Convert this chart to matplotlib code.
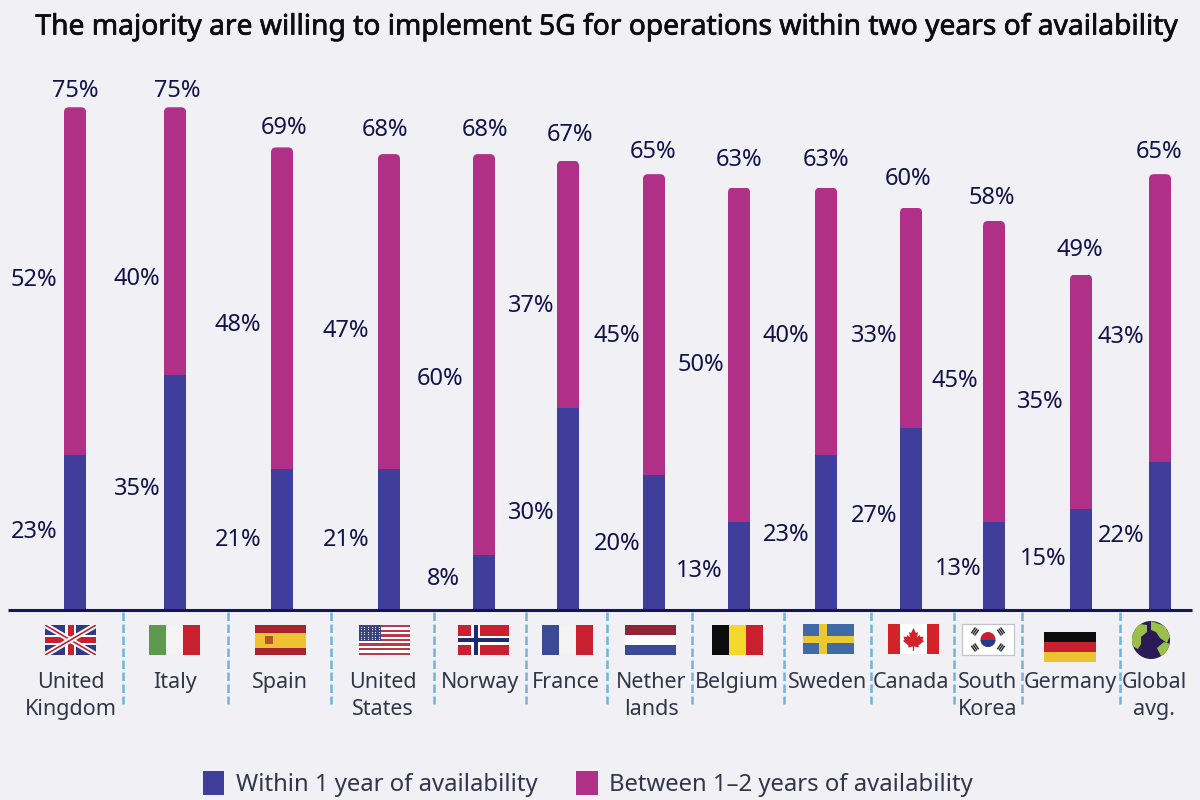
import numpy as np
import matplotlib
matplotlib.use('Agg')
import matplotlib.pyplot as plt
import matplotlib.patheffects as pe
from matplotlib.patches import Rectangle, Circle, Polygon, FancyBboxPatch

# data
countries = ['United\nKingdom', 'Italy', 'Spain', 'United\nStates', 'Norway', 'France', 'Nether\nlands',
             'Belgium', 'Sweden', 'Canada', 'South\nKorea', 'Germany', 'Global\navg.']
within_1 = [23, 35, 21, 21, 8, 30, 20, 13, 23, 27, 13, 15, 22]
between_1_2 = [52, 40, 48, 47, 60, 37, 45, 50, 40, 33, 45, 35, 43]
totals = [75, 75, 69, 68, 68, 67, 65, 63, 63, 60, 58, 49, 65]

# layout, all in reference pixels
bar_x = [75, 175, 282, 389, 484, 568, 654, 739, 826, 911, 994, 1081, 1160]
name_x = [71, 175, 280, 383, 480, 566, 651, 737, 828, 911, 988, 1070, 1154]
total_pos = [(75, 89), (177, 89), (284, 126), (385, 128), (485, 128), (570, 133), (653, 150),
             (739, 158), (826, 158), (908, 177), (992, 196), (1080, 248), (1159, 150)]
top_pos = [(34, 278), (137, 277), (238, 323), (346, 329), (440, 377), (531, 304), (617, 334),
           (701, 363), (786, 334), (874, 334), (955, 379), (1040, 400), (1121, 335)]
low_pos = [(34, 530), (137, 487), (238, 538), (346, 538), (443, 577), (531, 511), (617, 542),
           (699, 569), (786, 533), (874, 514), (958, 567), (1043, 557), (1121, 534)]
divider_x = [123, 228, 331, 434, 526, 607, 692, 784, 871, 954, 1022, 1120]

BG = '#f1f1f5'
BLUE = '#3f3f9b'
PINK = '#b03088'
NAVY = '#14124a'
DASH = '#6fb4dc'
RED = '#c8202f'
FLAG_BLUE = '#3b4a96'
LABEL_GREY = '#34344a'
plt.rcParams['font.family'] = ['Noto Sans', 'DejaVu Sans']

PX_PER_PCT = 6.69
BASE_Y = 609
TOP_Y = 60

fig = plt.figure(figsize=(12, 8), dpi=100, facecolor=BG)
ax = fig.add_axes([0, (800 - BASE_Y) / 800, 1, (BASE_Y - TOP_Y) / 800])
ax.set_xlim(0, 1200)
ax.set_ylim(0, (BASE_Y - TOP_Y) / PX_PER_PCT)
ax.axis('off')

# pixel overlay for text and flags
ov = fig.add_axes([0, 0, 1, 1], zorder=3)
ov.set_xlim(0, 1200)
ov.set_ylim(800, 0)
ov.axis('off')

low = ax.bar(bar_x, within_1, width=22, color=BLUE, label='Within 1 year of availability', zorder=3)
high = ax.bar(bar_x, between_1_2, width=22, bottom=within_1, color=PINK,
              label='Between 1\u20132 years of availability', zorder=2)

# round the top corners of the pink bars
for rect_, x, a, b in zip(high, bar_x, within_1, between_1_2):
    clip = FancyBboxPatch((x - 11, 0), 22, a + b, boxstyle='round,pad=0,rounding_size=5',
                          mutation_aspect=1 / PX_PER_PCT, transform=ax.transData)
    rect_.set_clip_path(clip)

ov.plot([8, 1192], [BASE_Y + 1, BASE_Y + 1], color='#17145c', lw=2.2, solid_capstyle='butt')
for x in divider_x:
    ov.plot([x, x], [612, 704], color=DASH, lw=1.8, dashes=(3.4, 1.4))

title = ov.text(606, 27, 'The majority are willing to implement 5G for operations within two years of availability',
                ha='center', va='center', fontsize=20.3, color='#0c0c12')
# no medium weight in the font, thicken it a little
title.set_path_effects([pe.withStroke(linewidth=0.5, foreground='#0c0c12')])

for (x, y), v in zip(total_pos, totals):
    ov.text(x, y + 2, f'{v}%', ha='center', va='center', fontsize=17, color=NAVY)
for (x, y), v in zip(top_pos, between_1_2):
    ov.text(x, y + 2, f'{v}%', ha='center', va='center', fontsize=17, color=NAVY)
for (x, y), v in zip(low_pos, within_1):
    ov.text(x, y + 2, f'{v}%', ha='center', va='center', fontsize=17, color=NAVY)

for x, name in zip(name_x, countries):
    ov.text(x, 672, name, ha='center', va='top', fontsize=15.5, color=LABEL_GREY,
            linespacing=1.38)


def rect(x, y, w, h, c, clip=None):
    r = Rectangle((x, y), w, h, fc=c, ec='none')
    ov.add_patch(r)
    if clip is not None:
        r.set_clip_path(clip)
    return r


def vertical_tricolor(x0, y0, cols):
    for i, c in enumerate(cols):
        rect(x0 + i * 17, y0, 17.2, 30, c)


def flag_uk(x, y):
    box = rect(x, y, 51, 30, '#2f3a86')
    for a, b in [((x, y), (x + 51, y + 30)), ((x, y + 30), (x + 51, y))]:
        ln, = ov.plot([a[0], b[0]], [a[1], b[1]], color='white', lw=4, solid_capstyle='butt')
        ln.set_clip_path(box)
        ln, = ov.plot([a[0], b[0]], [a[1], b[1]], color=RED, lw=1.2, solid_capstyle='butt')
        ln.set_clip_path(box)
    rect(x + 20, y, 11, 30, 'white')
    rect(x, y + 10, 51, 10, 'white')
    rect(x + 22.5, y, 6, 30, RED)
    rect(x, y + 12, 51, 6, RED)


def flag_us(x, y):
    rect(x, y, 51, 30, 'white')
    for i in range(0, 13, 2):
        rect(x, y + i * 30 / 13, 51, 30 / 13, '#b83a48')
    rect(x, y, 22.5, 15.5, '#3a4380')
    for i in range(6):
        ov.plot(x + 2 + np.arange(6) * 3.7, np.full(6, y + 1.5 + i * 2.5), ls='none', marker='.',
                ms=1.6, color='white', mew=0)


def flag_norway(x, y):
    rect(x, y, 51, 30, RED)
    rect(x + 13, y, 9, 30, 'white')
    rect(x, y + 10.5, 51, 9, 'white')
    rect(x + 15.5, y, 4, 30, '#1e2a6e')
    rect(x, y + 13, 51, 4, '#1e2a6e')


def flag_sweden(x, y):
    rect(x, y, 51, 30, '#3f6aa5')
    rect(x + 16, y, 8, 30, '#ecc832')
    rect(x, y + 11.5, 51, 7, '#ecc832')


def flag_canada(x, y):
    rect(x, y, 51, 30, 'white')
    rect(x, y, 12, 30, '#d2232a')
    rect(x + 39, y, 12, 30, '#d2232a')
    cx, cy = x + 25.5, y + 15
    leaf = [(0, -11), (2.5, -6), (4.5, -7), (3.5, -1.5), (6, -4), (7, -2), (10, -2.5), (9, 1), (10.5, 2),
            (5, 6.5), (5.5, 8.5), (0.6, 7.5), (0.6, 12), (-0.6, 12), (-0.6, 7.5), (-5.5, 8.5), (-5, 6.5),
            (-10.5, 2), (-9, 1), (-10, -2.5), (-7, -2), (-6, -4), (-3.5, -1.5), (-4.5, -7), (-2.5, -6)]
    ov.add_patch(Polygon([(cx + a, cy + b) for a, b in leaf], fc='#d2232a', ec='none'))


def flag_korea(x, y):
    ov.add_patch(Rectangle((x, y), 52, 31, fc='white', ec='#c4c4c8', lw=0.9))
    cx, cy = x + 26, y + 15.5
    ov.add_patch(Circle((cx, cy), 7.5, fc='#c8202f', ec='none'))
    half = Rectangle((cx - 8, cy), 16, 8, fc='#1f3d8a', ec='none')
    ov.add_patch(half)
    half.set_clip_path(Circle((cx, cy), 7.5, transform=ov.transData))
    for dx, dy in [(-1, -1), (1, -1), (-1, 1), (1, 1)]:
        px, py = cx + dx * 13, cy + dy * 8
        ang = 35 if dx * dy > 0 else -35
        for off in (-2, 0, 2):
            nx, ny = np.cos(np.radians(ang)) * off, np.sin(np.radians(ang)) * off
            tx, ty = -np.sin(np.radians(ang)) * 3.5, np.cos(np.radians(ang)) * 3.5
            ov.plot([px + nx - tx, px + nx + tx], [py + ny - ty, py + ny + ty],
                    color='#333338', lw=1.1, solid_capstyle='butt')


def flag_globe(cx, cy):
    disc = Circle((cx, cy), 19, fc='#2a1a55', ec='none')
    ov.add_patch(disc)
    blobs = [[(-19, -8), (-12, -16), (-4, -15), (-4, -8), (-10, -3), (-10, 4), (-13, 9), (-19, 6)],
             [(0, -19), (14, -14), (19, -4), (16, 3), (9, -2), (5, -8), (0, -10)],
             [(6, 8), (13, 2), (19, 4), (17, 14), (10, 16), (8, 12)]]
    for b in blobs:
        p = Polygon([(cx + u, cy + v) for u, v in b], fc='#9bc048', ec='none')
        ov.add_patch(p)
        p.set_clip_path(disc)


flag_uk(45, 625)
vertical_tricolor(149, 625, ['#5c9a4e', '#f3f3f3', '#c8202f'])
rect(255, 625, 51, 7.5, '#a8232b')
rect(255, 632.5, 51, 15, '#eec332')
rect(255, 647.5, 51, 7.5, '#a8232b')
rect(265, 636, 8, 8, '#b0552f')
flag_us(358.5, 625)
flag_norway(458, 625)
vertical_tricolor(541.5, 625, [FLAG_BLUE, '#f3f3f3', '#c8202f'])
rect(625, 625, 51, 10, '#8e2436')
rect(625, 635, 51, 10, 'white')
rect(625, 645, 51, 10, FLAG_BLUE)
vertical_tricolor(712, 625, ['#0c0c0c', '#f5d82e', '#c8202f'])
flag_sweden(803, 624)
flag_canada(888, 624)
flag_korea(962, 624)
rect(1044, 632, 51.5, 10, '#0c0c0c')
rect(1044, 642, 51.5, 10, '#c8202f')
rect(1044, 652, 51.5, 10, '#eec332')
flag_globe(1151, 640)

ov.legend(handles=[low, high], loc='center', bbox_to_anchor=(588 / 1200, 1 - 784 / 800),
          bbox_transform=fig.transFigure, ncol=2, frameon=False,
          prop={'size': 17.2},
          handlelength=0.9, handleheight=1.15, handletextpad=0.5, columnspacing=1.6,
          labelcolor=LABEL_GREY)

fig.savefig('out.png', dpi=100, facecolor=BG)
